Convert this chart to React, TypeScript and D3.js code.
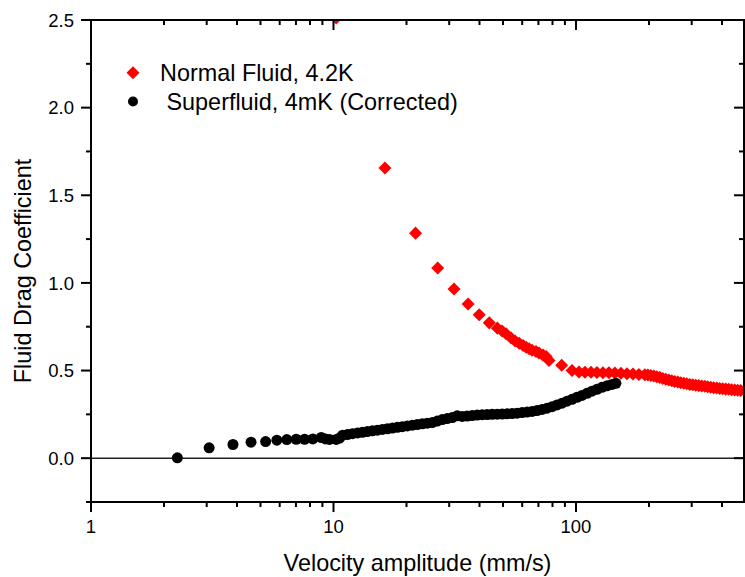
import React from "react";
import * as d3 from "d3";

const normalX = [10.26, 16.3, 21.8, 26.9, 31.4, 35.9, 39.9, 43.9, 47.4, 49.6, 51.5, 54.0, 56.1, 58.3, 60.5, 62.3, 64.1, 65.9, 68.4, 70.4, 73.1, 75.3, 77.4, 87.3, 96.3, 102.9, 108.9, 115.3, 122.0, 129.2, 136.7, 144.7, 153.2, 162.2, 171.7, 181.7, 192.3, 197.9, 203.5, 209.4, 215.4, 221.6, 228.0, 234.6, 241.4, 248.4, 255.5, 262.9, 270.5, 278.2, 286.3, 294.5, 303.1, 311.8, 320.8, 330.0, 339.6, 349.3, 359.4, 369.8, 380.4, 391.4, 402.7, 414.3, 426.3, 438.5, 451.2, 464.2, 477.6];
const normalY = [2.511, 1.655, 1.284, 1.085, 0.965, 0.880, 0.819, 0.772, 0.742, 0.725, 0.710, 0.686, 0.668, 0.656, 0.643, 0.633, 0.625, 0.616, 0.608, 0.600, 0.588, 0.580, 0.558, 0.530, 0.500, 0.492, 0.490, 0.490, 0.489, 0.488, 0.487, 0.486, 0.484, 0.482, 0.480, 0.478, 0.476, 0.474, 0.472, 0.469, 0.465, 0.461, 0.455, 0.450, 0.446, 0.442, 0.438, 0.434, 0.430, 0.427, 0.424, 0.421, 0.419, 0.416, 0.414, 0.412, 0.410, 0.407, 0.405, 0.402, 0.400, 0.398, 0.396, 0.394, 0.393, 0.391, 0.389, 0.387, 0.386];

const superX = [2.27, 3.07, 3.85, 4.57, 5.25, 5.84, 6.42, 7.02, 7.60, 8.22, 8.90, 9.27, 9.63, 10.26, 10.6, 10.9, 11.42, 11.97, 12.56, 13.16, 13.80, 14.47, 15.18, 15.91, 16.68, 17.49, 18.34, 19.23, 20.16, 21.14, 22.17, 23.24, 24.37, 25.55, 26.79, 28.09, 29.45, 30.88, 32.38, 33.95, 35.59, 37.33, 39.14, 41.04, 43.03, 45.12, 47.31, 49.60, 52.01, 54.53, 57.18, 59.95, 62.86, 65.91, 69.11, 72.46, 75.98, 79.67, 83.53, 87.58, 91.83, 96.28, 100.9, 105.8, 111.0, 116.4, 122.0, 127.9, 134.2, 140.7, 146.1];
const superY = [0.002, 0.059, 0.078, 0.091, 0.095, 0.103, 0.106, 0.108, 0.108, 0.110, 0.118, 0.110, 0.107, 0.107, 0.115, 0.131, 0.135, 0.140, 0.144, 0.148, 0.152, 0.156, 0.160, 0.164, 0.168, 0.172, 0.176, 0.180, 0.184, 0.188, 0.192, 0.196, 0.200, 0.203, 0.212, 0.220, 0.226, 0.232, 0.242, 0.238, 0.240, 0.243, 0.246, 0.248, 0.249, 0.250, 0.251, 0.252, 0.253, 0.255, 0.257, 0.260, 0.263, 0.267, 0.272, 0.278, 0.285, 0.294, 0.304, 0.314, 0.325, 0.336, 0.347, 0.358, 0.370, 0.382, 0.393, 0.404, 0.413, 0.421, 0.427];

const xMajorTicks = [1, 10, 100];
const xMinorTicks = [2, 3, 4, 5, 6, 7, 8, 9, 20, 30, 40, 50, 60, 70, 80, 90, 200, 300, 400];
const yMajorTicks = [0.0, 0.5, 1.0, 1.5, 2.0, 2.5];
const yMinorTicks = [-0.25, 0.25, 0.75, 1.25, 1.75, 2.25];

const legendLabels = ["Normal Fluid, 4.2K", " Superfluid, 4mK (Corrected)"];
const xTitle = "Velocity amplitude (mm/s)";
const yTitle = "Fluid Drag Coefficient";

const W = 745, H = 577;
const L = 91, R = 744, T = 20, B = 502;
const FONT = "'Liberation Sans', Arial, Helvetica, sans-serif";

export default function App() {
  const x = d3.scaleLog().domain([1, 493]).range([L, R]);
  const y = d3.scaleLinear().domain([-0.25, 2.5]).range([B, T]);
  const diamond = d3.symbol().type(d3.symbolDiamond2).size(108)();
  const fmt = d3.format(".1f");

  return (
    <svg width={W} height={H} style={{ position: "absolute", left: 0, top: 0, background: "#fff" }}>
      <defs>
        <clipPath id="plotclip">
          <rect x={L} y={T} width={R - L} height={B - T} />
        </clipPath>
      </defs>
      <rect x={0} y={0} width={W} height={H} fill="#fff" />
      <line x1={L} x2={R} y1={y(0)} y2={y(0)} stroke="#222" strokeWidth={1.6} />
      <g clipPath="url(#plotclip)">
        {normalX.map((v, i) => (
          <path key={"n" + i} d={diamond} transform={`translate(${x(v)},${y(normalY[i])})`} fill="#ff0000" />
        ))}
        {superX.map((v, i) => (
          <circle key={"s" + i} cx={x(v)} cy={y(superY[i])} r={5.5} fill="#000" />
        ))}
      </g>
      <rect x={L} y={T} width={R - L} height={B - T} fill="none" stroke="#000" strokeWidth={2} />
      {xMajorTicks.map((t) => (
        <g key={"xm" + t}>
          <line x1={x(t)} x2={x(t)} y1={B} y2={B + 10} stroke="#000" strokeWidth={2} />
          <line x1={x(t)} x2={x(t)} y1={T} y2={T + 10} stroke="#000" strokeWidth={2} />
          <text x={x(t)} y={533} textAnchor="middle" fontFamily={FONT} fontSize={18.5} fill="#000">{String(t)}</text>
        </g>
      ))}
      {xMinorTicks.map((t) => (
        <g key={"xn" + t}>
          <line x1={x(t)} x2={x(t)} y1={B} y2={B + 5} stroke="#000" strokeWidth={2} />
          <line x1={x(t)} x2={x(t)} y1={T} y2={T + 5} stroke="#000" strokeWidth={2} />
        </g>
      ))}
      {yMajorTicks.map((t) => (
        <g key={"ym" + t}>
          <line x1={L - 10} x2={L} y1={y(t)} y2={y(t)} stroke="#000" strokeWidth={2} />
          <line x1={R - 10} x2={R} y1={y(t)} y2={y(t)} stroke="#000" strokeWidth={2} />
          <text x={74} y={y(t) + 6.6} textAnchor="end" fontFamily={FONT} fontSize={18.5} fill="#000">{fmt(t)}</text>
        </g>
      ))}
      {yMinorTicks.map((t) => (
        <g key={"yn" + t}>
          <line x1={L - 5} x2={L} y1={y(t)} y2={y(t)} stroke="#000" strokeWidth={2} />
          <line x1={R - 5} x2={R} y1={y(t)} y2={y(t)} stroke="#000" strokeWidth={2} />
        </g>
      ))}
      <text x={417.5} y={571} textAnchor="middle" fontFamily={FONT} fontSize={23.4} fill="#000">{xTitle}</text>
      <text transform={`translate(31,271) rotate(-90)`} textAnchor="middle" fontFamily={FONT} fontSize={23.4} fill="#000">{yTitle}</text>
      <path d={diamond} transform="translate(133,72.7)" fill="#ff0000" />
      <text x={160} y={81} fontFamily={FONT} fontSize={23.4} fill="#000">{legendLabels[0]}</text>
      <circle cx={133} cy={101.5} r={5} fill="#000" />
      <text x={160} y={110} fontFamily={FONT} fontSize={23.4} fill="#000" style={{ whiteSpace: "pre" }}>{legendLabels[1]}</text>
    </svg>
  );
}
